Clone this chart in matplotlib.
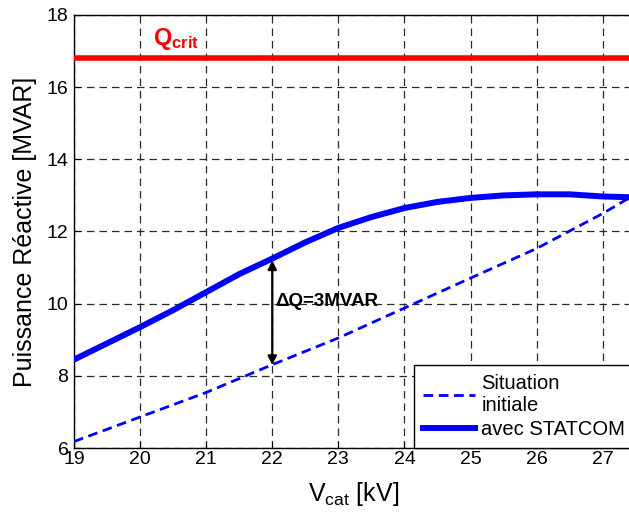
import matplotlib
matplotlib.use("Agg")
import matplotlib.pyplot as plt

plt.rcParams["font.family"] = ["Liberation Sans", "DejaVu Sans"]
plt.rcParams["mathtext.fontset"] = "custom"
plt.rcParams["mathtext.rm"] = "Liberation Sans"
plt.rcParams["mathtext.it"] = "Liberation Sans"
plt.rcParams["mathtext.bf"] = "Liberation Sans:bold"

# data
v_statcom = [19, 19.5, 20, 20.5, 21, 21.5, 22, 22.5, 23, 23.5, 24, 24.5, 25, 25.5, 26, 26.5, 27, 27.4]
q_statcom = [8.45, 8.9, 9.35, 9.82, 10.32, 10.82, 11.25, 11.7, 12.1, 12.4, 12.65, 12.82, 12.93, 13.0, 13.03, 13.03, 12.97, 12.95]
v_init = [19, 20, 21, 22, 23, 24, 25, 26, 27, 27.4]
q_init = [6.18, 6.86, 7.54, 8.31, 9.05, 9.88, 10.71, 11.53, 12.5, 12.93]
q_crit = 16.8
arrow_v = 22
arrow_q = (11.2, 8.3)
x_ticks = [19, 20, 21, 22, 23, 24, 25, 26, 27]
y_ticks = [6, 8, 10, 12, 14, 16, 18]

fig = plt.figure(figsize=(6.29, 5.15), dpi=100)
ax = fig.add_axes([0.1176, 0.130, 0.888, 0.841])

ax.axhline(q_crit, color="#ff0000", lw=4.0, zorder=3)
ax.plot(v_init, q_init, color="#0000ff", lw=2.0, ls=(0, (3.5, 2)), label="Situation\ninitiale", zorder=3)
ax.plot(v_statcom, q_statcom, color="#0000ff", lw=4.3, label="avec STATCOM", zorder=3)

ax.annotate("", xy=(arrow_v, arrow_q[1]), xytext=(arrow_v, arrow_q[0]),
            arrowprops=dict(arrowstyle="<|-|>", color="black", lw=1.6,
                            mutation_scale=13, shrinkA=0, shrinkB=0), zorder=4)
ax.text(arrow_v + 0.04, 10.05, "ΔQ=3MVAR", fontsize=13.5, fontweight="bold",
        ha="left", va="center", zorder=4)
ax.text(20.2, 17.17, r"$\mathbf{Q_{crit}}$", color="#ff0000", fontsize=17,
        ha="left", va="baseline")

ax.set_xlim(19, 27.45)
ax.set_ylim(6, 18)
ax.set_xticks(x_ticks)
ax.set_yticks(y_ticks)
ax.tick_params(direction="in", labelsize=14, length=4, top=False, right=False)
ax.tick_params(axis="x", pad=2)
ax.tick_params(axis="y", pad=4)
ax.grid(True, color="#2a2a2a", ls=(0, (6, 4)), lw=0.9)
for s in ax.spines.values():
    s.set_linewidth(1.0)
ax.spines["right"].set_visible(False)

ax.set_xlabel(r"$\mathregular{V_{cat}}$ [kV]", fontsize=18, labelpad=8.5)
ax.set_ylabel("Puissance Réactive [MVAR]", fontsize=18, labelpad=7)

leg = ax.legend(loc="lower right", bbox_to_anchor=(1.003, 0.0), fontsize=14.5,
                frameon=True, fancybox=False, edgecolor="black", framealpha=1,
                handlelength=2.6, borderaxespad=0, borderpad=0.45,
                labelspacing=0.25, handletextpad=0.3)
leg.get_frame().set_linewidth(1.0)

fig.savefig("out.png", dpi=100)
